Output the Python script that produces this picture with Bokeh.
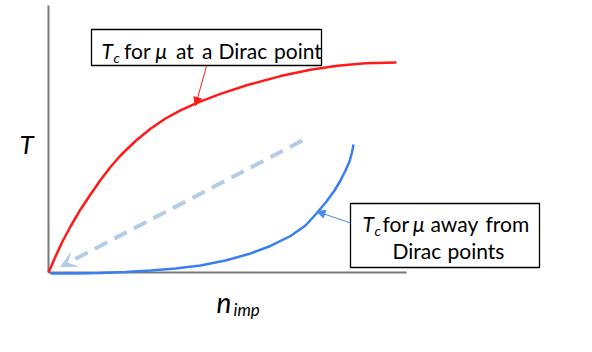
from bokeh.plotting import figure
from bokeh.models import Range1d, Label, Arrow, NormalHead, VeeHead
from bokeh.embed import file_html
from bokeh.resources import INLINE

# ---- data (n_imp and T in axis units, 0..1) ----
red_n = [0.0, 0.0196, 0.0392, 0.0616, 0.0896, 0.1176, 0.1457, 0.1737, 0.2017,
         0.2437, 0.2857, 0.3277, 0.3697, 0.4174, 0.4818, 0.5574, 0.6499,
         0.7339, 0.8095, 0.8880, 0.9748]
red_T = [0.0, 0.0599, 0.1161, 0.1723, 0.2360, 0.2921, 0.3464, 0.3951, 0.4382,
         0.4925, 0.5386, 0.5768, 0.6075, 0.6363, 0.6689, 0.7022, 0.7356,
         0.7592, 0.7742, 0.7835, 0.7869]

blue_n = [0.0056, 0.0756, 0.1457, 0.2157, 0.2857, 0.3557, 0.4258, 0.4958,
          0.5658, 0.6218, 0.6779, 0.7199, 0.7507, 0.7787, 0.8011, 0.8179,
          0.8319, 0.8431, 0.8501, 0.8543]
blue_T = [-0.0037, -0.0037, -0.0019, 0.0019, 0.0075, 0.0150, 0.0262, 0.0449,
          0.0712, 0.0993, 0.1367, 0.1760, 0.2210, 0.2659, 0.3071, 0.3446,
          0.3820, 0.4157, 0.4494, 0.4794]

trend_start = (0.711, 0.494)
trend_end = (0.034, 0.022)

# ---- layout helpers (pixel in 592x352 picture -> axis units) ----
X0, XS = 48.0, 357.0
Y0, YS = 272.0, 267.0
def nx(px):
    return (px - X0) / XS
def ty(py):
    return (Y0 - py) / YS

W, H = 576, 336
p = figure(width=W, height=H, output_backend="svg", toolbar_location=None,
           x_range=Range1d(nx(0), nx(W)), y_range=Range1d(ty(H), ty(0)),
           x_axis_type=None, y_axis_type=None, min_border=0,
           outline_line_color=None, background_fill_color="white")

axis_col = "#7a7a7a"
p.line([0, 0], [0, 1.0], line_color=axis_col, line_width=2)
p.line([0, 1.003], [0, 0], line_color=axis_col, line_width=2)

p.line(red_n, red_T, line_color="#ff1a1a", line_width=2.5)
p.line(blue_n, blue_T, line_color="#3a7ff0", line_width=2.5)

p.add_layout(Arrow(x_start=trend_start[0], y_start=trend_start[1],
                   x_end=trend_end[0], y_end=trend_end[1],
                   line_color="#b4cde4", line_width=4, line_dash="14 8",
                   end=VeeHead(size=15, fill_color="#b4cde4",
                               line_color="#b4cde4", line_width=1)))

# boxes
p.quad(left=[nx(91)], right=[nx(321)], top=[ty(29)], bottom=[ty(65)],
       fill_color="white", line_color="black", line_width=1.3)
p.quad(left=[nx(350)], right=[nx(539)], top=[ty(203)], bottom=[ty(267)],
       fill_color="white", line_color="black", line_width=1.3)

# pointer arrows
p.add_layout(Arrow(x_start=nx(206), y_start=ty(65.5), x_end=nx(195), y_end=ty(105),
                   line_color="#ff1a1a", line_width=1,
                   end=NormalHead(size=8, fill_color="#ff1a1a", line_color="#ff1a1a")))
p.add_layout(Arrow(x_start=nx(350), y_start=ty(222.5), x_end=nx(316.5), y_end=ty(211),
                   line_color="#4a8af0", line_width=1,
                   end=NormalHead(size=8, fill_color="#4a8af0", line_color="#4a8af0")))

FONT = "Lato"
FS = 21
SUB = 14
def lab(px, py, txt, size=FS, style="normal", font=FONT):
    # py is the wanted baseline; shift by the font's descent
    p.add_layout(Label(x=nx(px), y=ty(py - 0.22 * size), text=txt, text_font=font,
                       text_font_size=f"{size}px", text_font_style=style,
                       text_color="black", text_baseline="alphabetic",
                       text_align="left"))

# box 1 text: "T_c for μ at a Dirac point"
lab(101, 55, "T", style="italic")
lab(113, 60, "c", size=SUB, style="italic")
lab(123.5, 55, "for")
lab(155, 55, "μ", style="italic")
lab(175.5, 55, "at")
lab(201.5, 55, "a")
lab(218, 55, "Dirac")
lab(273.5, 55, "point")

# box 2 text: "T_c for μ away from / Dirac points"
lab(362, 228, "T", style="italic")
lab(374, 233, "c", size=SUB, style="italic")
lab(382, 228, "for")
lab(412.5, 228, "μ", style="italic")
lab(430, 228, "away")
lab(485, 228, "from")
lab(392, 255, "Dirac")
lab(447, 255, "points")

# axis titles
lab(19, 149, "T", size=26, style="italic")
lab(216, 308, "n", size=28, style="italic")
lab(233, 313, "imp", size=17, style="italic")

open("out.html", "w").write(file_html(p, INLINE))
